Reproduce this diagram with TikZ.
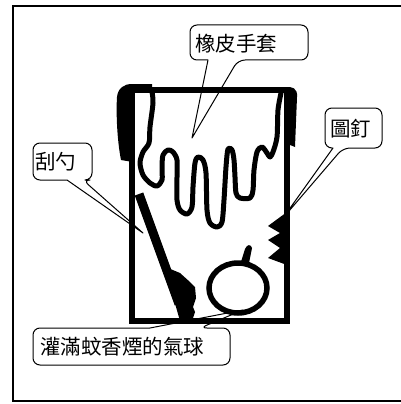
\documentclass[tikz,border=0pt]{standalone}
\usepackage{fontspec}
\newfontfamily\cjk{Noto Sans CJK TC}
\usetikzlibrary{calc}

\tikzset{
  lbl/.style={anchor=west,inner sep=0pt,font=\cjk\fontsize{20.5}{22}\selectfont},
  bubble/.style={draw,line width=1pt,line join=round},
  wall/.style={draw,line width=5.5pt},
  drip/.style={draw,line width=5pt,line join=round,line cap=round}
}

\begin{document}
\begin{tikzpicture}[x=1pt,y=-1pt]

\useasboundingbox (0,0) rectangle (401,404);
\draw[line width=1.2pt] (13,6) rectangle (403,401);

% bucket and the spill over its rim
\fill (133,162) -- (121,160) .. controls (117,140) and (116,112) .. (117,97)
  .. controls (118,88) and (124,84) .. (132,84) -- (152,84) -- (152,92) -- (133,92) -- cycle;
\fill (285,88) .. controls (292,85) and (298,89) .. (297,97) -- (296,122)
  -- (295,147) -- (290,145) -- (286,140) -- cycle;
\draw[wall] (132,90) rectangle (287,321);

% rubber glove
\draw[drip] plot[smooth,tension=0.5] coordinates {
  (152,92) (153,103) (150,127) (149,143) (143,152) (140,163) (143,175)
  (150,183) (157,186) (162,180) (162,167) (163,155) (168,150) (173,152)
  (177,160) (177,177) (177,200) (180,210) (187,214) (192,207) (193,187)
  (195,163) (198,157) (203,160) (206,173) (207,210) (210,223) (217,227)
  (222,222) (224,200) (226,167) (228,149) (232,150) (234,160) (235,177)
  (236,193) (240,198) (250,198) (253,190) (254,170) (257,152) (262,147)
  (267,153) (270,157) (273,152) (277,137) (278,110) (281,93)};

% spatula
\draw[line width=9pt] (139,194) -- (179,304);
\fill (168,268) -- (180,273) -- (190,282) -- (195,287) -- (196,298) -- (193,307)
  -- (195,312) -- (193,318) -- (188,321) -- (180,321) -- (174,300) -- cycle;

% pins
\fill (287,212) -- (268,226) -- (280,233) -- (268,240) -- (280,248) -- (268,258)
  -- (287,265) -- cycle;

% balloon
\draw[line width=5.5pt] (238,288) ellipse[x radius=29pt,y radius=25pt];
\fill (240,265) -- (245,249) .. controls (247,244) and (251,244) .. (252,248)
  -- (249,263) -- cycle;

% labels
\node[lbl] (glove) at (195,44) {橡皮手套};
\node[lbl] (spatula) at (35,162) {刮勺};
\node[lbl] (pin) at (330,129) {圖釘};
\node[lbl] (balloon) at (40,347) {灌滿蚊香煙的氣球};

\coordinate (glove tip) at (192,138);
\coordinate (spatula tip) at (143,233);
\coordinate (pin tip) at (283,218);
\coordinate (balloon tip) at (243,310);

\draw[bubble] (208,60) [rounded corners=7pt] -- (190,60) -- (190,25) -- (308,25)
  -- (308,60) -- (238,60) [sharp corners] -- (glove tip) -- cycle;
\draw[bubble] (67,180) [rounded corners=7pt] -- (33,180) -- (33,143) -- (92,143)
  -- (92,180) -- (83,180) [sharp corners] -- (spatula tip) -- cycle;
\draw[bubble] (333,148) [rounded corners=7pt] -- (325,148) -- (325,108) -- (382,108)
  -- (382,148) -- (343,148) [sharp corners] -- (pin tip) -- cycle;
\draw[bubble] (150,328) [rounded corners=7pt] -- (33,328) -- (33,365) -- (230,365)
  -- (230,328) -- (200,328) [sharp corners] -- (balloon tip) -- cycle;

\end{tikzpicture}
\end{document}
